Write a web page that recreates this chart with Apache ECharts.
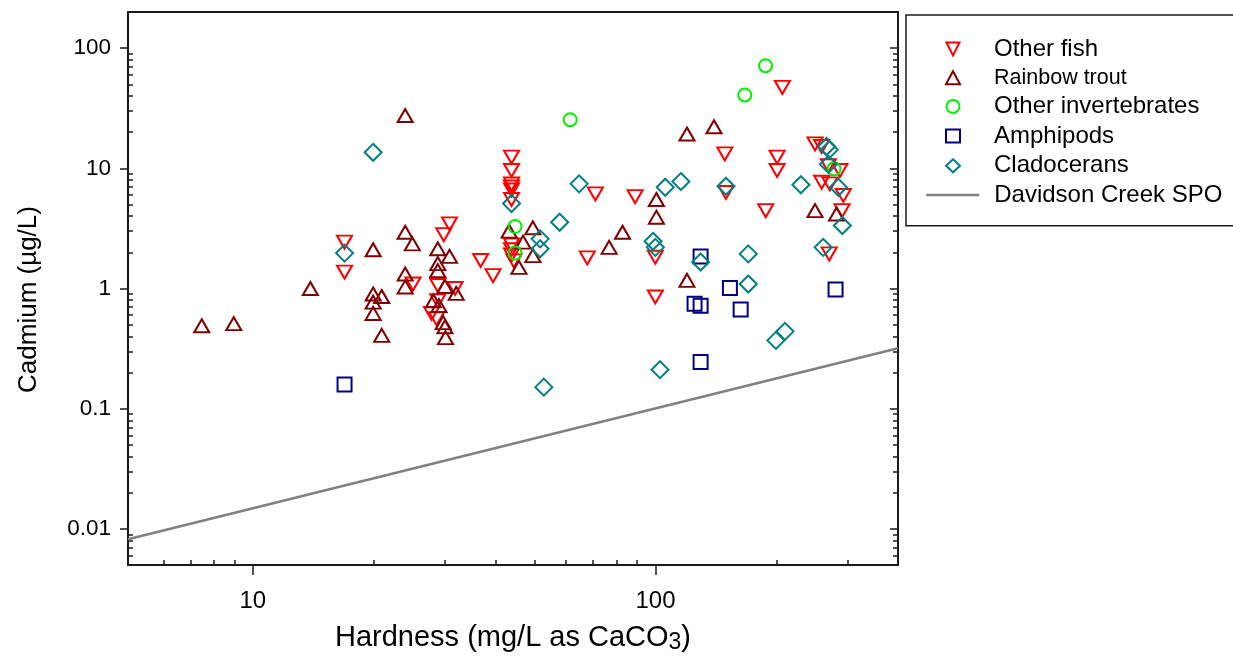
<!DOCTYPE html>
<html><head><meta charset="utf-8">
<script src="https://cdn.jsdelivr.net/npm/echarts@6/dist/echarts.min.js"></script>
<style>html,body{margin:0;padding:0;background:#fff}#c{width:1233px;height:656px}</style>
</head><body><div id="c"></div>
<script>
// tick values
const xMajorTicks = [10, 100];
const xMinorTicks = [6, 7, 8, 9, 20, 30, 40, 50, 60, 70, 80, 90, 200, 300];
const yMajorTicks = [0.01, 0.1, 1, 10, 100];
const yMinorTicks = [0.006, 0.007, 0.008, 0.009,
  0.02, 0.03, 0.04, 0.05, 0.06, 0.07, 0.08, 0.09,
  0.2, 0.3, 0.4, 0.5, 0.6, 0.7, 0.8, 0.9,
  2, 3, 4, 5, 6, 7, 8, 9,
  20, 30, 40, 50, 60, 70, 80, 90];

// [hardness, cadmium]
const otherFish = [
  [16.9, 2.43], [16.9, 1.37], [25.0, 1.09], [30.8, 3.45], [29.8, 2.81],
  [36.8, 1.71], [39.5, 1.28], [28.8, 1.06], [31.8, 1.0], [28.8, 0.79],
  [27.8, 0.62], [28.6, 0.56],
  [43.9, 12.4], [43.9, 9.6], [43.9, 7.4], [43.9, 7.0], [43.9, 6.6], [43.9, 5.5],
  [43.9, 2.3], [43.9, 2.1], [43.9, 1.9], [44.5, 1.7],
  [67.7, 1.8], [70.9, 6.13], [89, 5.82], [99.9, 1.82], [99.9, 0.85],
  [206.5, 47.2], [148.6, 13.2], [149.6, 6.3], [200.4, 12.4], [200.4, 9.6],
  [187.8, 4.45], [248.9, 16.0], [258.5, 15.2], [268.6, 10.5], [287, 9.6],
  [258.5, 7.66], [271, 7.43], [292.6, 5.94], [290.5, 4.45], [270, 1.94]
];
const rainbowTrout = [
  [7.47, 0.49], [8.97, 0.51], [13.9, 1.0], [23.9, 27.5], [23.9, 2.94],
  [24.9, 2.35], [19.9, 2.1], [28.8, 2.14], [30.8, 1.85], [23.9, 1.32],
  [23.9, 1.03], [19.9, 0.90], [20.9, 0.858], [19.9, 0.77], [19.9, 0.62],
  [20.9, 0.407], [28.8, 1.61], [28.8, 1.41], [30.0, 1.04], [32, 0.91],
  [28.1, 0.79], [29.0, 0.72], [29.7, 0.52], [30.0, 0.48], [30.1, 0.39],
  [49.6, 3.2], [46.9, 2.43], [49.6, 1.88], [45.8, 1.5], [43.3, 3.0],
  [119.7, 19.3], [139.7, 22.2], [100.5, 5.5], [100.5, 3.92], [82.8, 2.94],
  [76.7, 2.2], [119.7, 1.17], [248.9, 4.45], [281.5, 4.17]
];
const otherInvertebrates = [
  [61.4, 25.4], [44.8, 3.28], [44.8, 1.97], [187.6, 71.5], [166.6, 40.8], [277.5, 9.9]
];
const amphipods = [
  [16.9, 0.159], [125, 0.745], [129.4, 0.72], [129.4, 1.85], [129.4, 0.244],
  [153, 1.01], [162.7, 0.669], [279.9, 0.98]
];
const cladocerans = [
  [19.9, 13.6], [16.9, 1.97], [43.9, 5.1], [64.6, 7.43], [105.7, 6.96],
  [115.6, 7.76], [57.8, 3.56], [51.7, 2.59], [51.7, 2.14], [98.6, 2.47],
  [99.9, 2.2], [102.6, 0.211], [52.8, 0.151], [149.6, 7.1], [229.6, 7.3],
  [266, 15.2], [270, 14.3], [268.6, 10.8], [284.4, 6.96], [291, 3.34],
  [260.8, 2.2], [169.9, 1.94], [169.9, 1.09], [129.4, 1.66], [199, 0.37], [209.6, 0.44]
];
const davidsonSPO = [[4.9, 0.0082], [400, 0.318]];

const FONT = "'Liberation Sans', Arial, sans-serif";
const DOWN_TRI = 'path://M0,0 L20,0 L10,20 Z';
const chart = echarts.init(document.getElementById('c'), null, {renderer: 'canvas'});

function fmt(v) { return v >= 1 ? String(Math.round(v)) : String(+Number(v).toPrecision(2)); }

const xBase = {type: 'log', logBase: 10, min: 4.9, max: 400, gridIndex: 0, splitLine: {show: false}, minorTick: {show: false}};
const yBase = {type: 'log', logBase: 10, min: 0.005, max: 200, gridIndex: 0, splitLine: {show: false}, minorTick: {show: false}};
const axisLineStyle = {color: '#1a1a1a', width: 2};

function scatter(name, data, symbol, color, size) {
  return {
    name, type: 'scatter', data, symbol, symbolSize: size,
    xAxisIndex: 0, yAxisIndex: 0, z: 3,
    itemStyle: {color: 'rgba(0,0,0,0)', borderColor: color, borderWidth: 2, opacity: 1},
    emphasis: {disabled: true}
  };
}

const legendText = {fontFamily: FONT, fontSize: 24, color: '#000'};

chart.setOption({
  animation: false,
  backgroundColor: '#fff',
  grid: {left: 128, right: 335, top: 12, bottom: 91, containLabel: false, outerBoundsMode: 'none'},
  legend: [
    {
      orient: 'vertical', left: 906, top: 15, z: 4,
      padding: [22, 120, 48, 39], itemGap: 5.7, itemWidth: 14, itemHeight: 13,
      borderColor: '#1a1a1a', borderWidth: 1.5, backgroundColor: '#fff',
      textStyle: Object.assign({}, legendText, {padding: [0, 0, 0, 29]}), selectedMode: false,
      data: [
        {name: 'Other fish', icon: DOWN_TRI, itemStyle: {color: 'rgba(0,0,0,0)', borderColor: '#ff0000', borderWidth: 2}},
        {name: 'Rainbow trout', textStyle: {fontSize: 21.5}, itemStyle: {color: 'rgba(0,0,0,0)', borderColor: '#800000', borderWidth: 2}},
        {name: 'Other invertebrates', itemStyle: {color: 'rgba(0,0,0,0)', borderColor: '#00ee00', borderWidth: 2}},
        {name: 'Amphipods', itemStyle: {color: 'rgba(0,0,0,0)', borderColor: '#000080', borderWidth: 2}},
        {name: 'Cladocerans', itemStyle: {color: 'rgba(0,0,0,0)', borderColor: '#008080', borderWidth: 2}}
      ]
    },
    {
      orient: 'vertical', left: 925, top: 183, z: 5,
      padding: 0, itemWidth: 53, itemHeight: 20,
      textStyle: Object.assign({}, legendText, {padding: [0, 0, 0, 10]}), selectedMode: false,
      data: [
        {name: 'Davidson Creek SPO', itemStyle: {opacity: 0, color: 'rgba(0,0,0,0)', borderWidth: 0}, lineStyle: {color: '#808080', width: 2.5}}
      ]
    }
  ],
  xAxis: [
    Object.assign({}, xBase, {
      position: 'bottom',
      axisLine: {show: true, onZero: false, lineStyle: axisLineStyle},
      axisTick: {show: true, inside: false, length: 10, customValues: xMajorTicks, lineStyle: {color: '#1a1a1a', width: 1.5}},
      axisLabel: {show: true, customValues: xMajorTicks, formatter: fmt, margin: 24, fontFamily: FONT, fontSize: 24, color: '#000'},
      name: '{m|Hardness (mg/L as CaCO}{s|3}{m|)}', nameLocation: 'middle', nameGap: 57, nameMoveOverlap: false,
      nameTextStyle: {fontFamily: FONT, color: '#000', verticalAlign: 'top', rich: {
        m: {fontFamily: FONT, fontSize: 29, lineHeight: 32, color: '#000'},
        s: {fontFamily: FONT, fontSize: 23, lineHeight: 22, padding: [30, 0, 0, 0], verticalAlign: 'bottom', color: '#000'}
      }}
    }),
    Object.assign({}, xBase, {
      position: 'bottom',
      axisLine: {show: false, onZero: false},
      axisTick: {show: true, inside: true, length: 5, customValues: xMinorTicks, lineStyle: {color: '#1a1a1a', width: 1.5}},
      axisLabel: {show: false}
    }),
    Object.assign({}, xBase, {
      position: 'top',
      axisLine: {show: true, onZero: false, lineStyle: axisLineStyle},
      axisTick: {show: false},
      axisLabel: {show: false}
    })
  ],
  yAxis: [
    Object.assign({}, yBase, {
      position: 'left',
      axisLine: {show: true, onZero: false, lineStyle: axisLineStyle},
      axisTick: {show: true, inside: false, length: 8, customValues: yMajorTicks, lineStyle: {color: '#1a1a1a', width: 1.5}},
      axisLabel: {show: true, customValues: yMajorTicks, formatter: fmt, margin: 17, fontFamily: FONT, fontSize: 22.5, color: '#000'},
      name: 'Cadmium (µg/L)', nameLocation: 'middle', nameRotate: 90, nameGap: 86, nameMoveOverlap: false,
      nameTextStyle: {fontFamily: FONT, fontSize: 26, color: '#000', padding: [0, 22, 0, 0]}
    }),
    Object.assign({}, yBase, {
      position: 'left',
      axisLine: {show: false, onZero: false},
      axisTick: {show: true, inside: true, length: 5, customValues: yMinorTicks, lineStyle: {color: '#1a1a1a', width: 1.5}},
      axisLabel: {show: false}
    }),
    Object.assign({}, yBase, {
      position: 'right',
      axisLine: {show: true, onZero: false, lineStyle: axisLineStyle},
      axisTick: {show: true, inside: true, length: 8, customValues: yMajorTicks, lineStyle: {color: '#1a1a1a', width: 1.5}},
      axisLabel: {show: false}
    }),
    Object.assign({}, yBase, {
      position: 'right',
      axisLine: {show: false, onZero: false},
      axisTick: {show: true, inside: true, length: 5, customValues: yMinorTicks, lineStyle: {color: '#1a1a1a', width: 1.5}},
      axisLabel: {show: false}
    })
  ],
  series: [
    scatter('Other fish', otherFish, DOWN_TRI, '#ff0000', [15, 13]),
    scatter('Rainbow trout', rainbowTrout, 'triangle', '#800000', [15, 13]),
    scatter('Other invertebrates', otherInvertebrates, 'circle', '#00ee00', 13),
    scatter('Amphipods', amphipods, 'rect', '#000080', 14),
    scatter('Cladocerans', cladocerans, 'diamond', '#008080', 17),
    {
      name: 'Davidson Creek SPO', type: 'line', data: davidsonSPO, xAxisIndex: 0, yAxisIndex: 0,
      symbol: 'none', showSymbol: false, z: 2,
      lineStyle: {color: '#808080', width: 2.5}, itemStyle: {color: '#808080'},
      emphasis: {disabled: true}
    }
  ]
});
</script>
</body></html>
